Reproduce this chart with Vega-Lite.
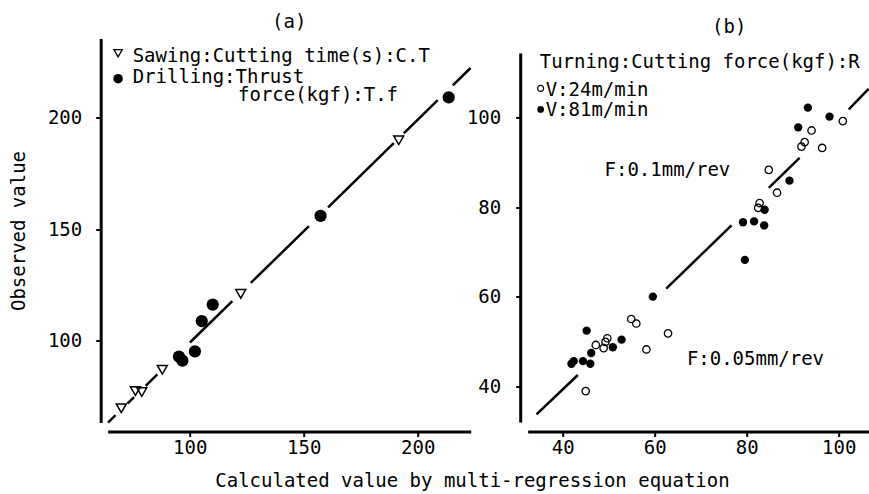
{
  "$schema": "https://vega.github.io/schema/vega-lite/v6.json",
  "padding": {"left": 8.7, "top": 12.5, "right": 0, "bottom": 0},
  "background": "white",
  "spacing": -10,
  "config": {
    "font": "DejaVu Sans Mono",
    "view": {"stroke": null},
    "axis": {
      "domainColor": "black", "domainWidth": 3, "tickColor": "black", "tickWidth": 2, "tickSize": 5,
      "labelColor": "black", "labelFontSize": 19, "labelFont": "DejaVu Sans Mono", "grid": false,
      "titleFontWeight": "normal", "titleFontSize": 19, "titleColor": "black", "titleFont": "DejaVu Sans Mono"
    },
    "text": {"font": "DejaVu Sans Mono", "fontSize": 19, "color": "black"}
  },
  "title": {
    "text": "Calculated value by multi-regression equation", "orient": "bottom", "anchor": "middle",
    "fontSize": 19, "fontWeight": "normal", "font": "DejaVu Sans Mono", "color": "black", "offset": 15, "dx": 31
  },
  "datasets": {
    "a_pts": [
      {"x": 70.0, "y": 69.6, "kind": "Sawing"},
      {"x": 76.2, "y": 77.3, "kind": "Sawing"},
      {"x": 79.0, "y": 76.9, "kind": "Sawing"},
      {"x": 88.0, "y": 86.9, "kind": "Sawing"},
      {"x": 122.4, "y": 120.9, "kind": "Sawing"},
      {"x": 191.7, "y": 189.8, "kind": "Sawing"},
      {"x": 95.3, "y": 92.8, "kind": "Drilling"},
      {"x": 96.8, "y": 91.0, "kind": "Drilling"},
      {"x": 102.3, "y": 95.1, "kind": "Drilling"},
      {"x": 105.3, "y": 108.7, "kind": "Drilling"},
      {"x": 110.1, "y": 116.1, "kind": "Drilling"},
      {"x": 157.4, "y": 155.9, "kind": "Drilling"},
      {"x": 213.6, "y": 209.0, "kind": "Drilling"}
    ],
    "a_line": [
      {"seg": 1, "x": 64.2, "y": 63.2}, {"seg": 1, "x": 67.5, "y": 66.5},
      {"seg": 2, "x": 72.7, "y": 71.7}, {"seg": 2, "x": 75.6, "y": 74.6},
      {"seg": 3, "x": 80.7, "y": 79.7}, {"seg": 3, "x": 85.8, "y": 84.8},
      {"seg": 4, "x": 100.1, "y": 99.1}, {"seg": 4, "x": 118.7, "y": 117.7},
      {"seg": 5, "x": 126.8, "y": 125.8}, {"seg": 5, "x": 152.3, "y": 151.3},
      {"seg": 6, "x": 160.7, "y": 159.7}, {"seg": 6, "x": 189.5, "y": 188.5},
      {"seg": 7, "x": 193.9, "y": 192.9}, {"seg": 7, "x": 208.8, "y": 207.8},
      {"seg": 8, "x": 215.4, "y": 214.4}, {"seg": 8, "x": 223.2, "y": 222.2}
    ],
    "a_leg": [
      {"x": 68.6, "y": 228.8, "kind": "Sawing"},
      {"x": 68.6, "y": 217.4, "kind": "Drilling"}
    ],
    "a_text": [
      {"x": 75.0, "y": 227.8, "label": "Sawing:Cutting time(s):C.T"},
      {"x": 75.0, "y": 218.2, "label": "Drilling:Thrust"},
      {"x": 121.2, "y": 209.9, "label": "force(kgf):T.f"}
    ],
    "b_pts": [
      {"x": 100.9, "y": 99.2, "speed": "24"},
      {"x": 94.1, "y": 97.1, "speed": "24"},
      {"x": 92.6, "y": 94.5, "speed": "24"},
      {"x": 91.9, "y": 93.5, "speed": "24"},
      {"x": 96.4, "y": 93.2, "speed": "24"},
      {"x": 84.8, "y": 88.3, "speed": "24"},
      {"x": 86.6, "y": 83.2, "speed": "24"},
      {"x": 82.8, "y": 80.9, "speed": "24"},
      {"x": 82.5, "y": 79.8, "speed": "24"},
      {"x": 54.9, "y": 55.0, "speed": "24"},
      {"x": 56.0, "y": 54.0, "speed": "24"},
      {"x": 62.9, "y": 51.8, "speed": "24"},
      {"x": 49.7, "y": 50.7, "speed": "24"},
      {"x": 49.3, "y": 49.9, "speed": "24"},
      {"x": 47.2, "y": 49.2, "speed": "24"},
      {"x": 48.9, "y": 48.5, "speed": "24"},
      {"x": 58.2, "y": 48.2, "speed": "24"},
      {"x": 45.0, "y": 38.9, "speed": "24"},
      {"x": 93.3, "y": 102.2, "speed": "81"},
      {"x": 98.0, "y": 100.2, "speed": "81"},
      {"x": 91.2, "y": 97.8, "speed": "81"},
      {"x": 89.3, "y": 85.9, "speed": "81"},
      {"x": 83.9, "y": 79.4, "speed": "81"},
      {"x": 79.2, "y": 76.6, "speed": "81"},
      {"x": 81.6, "y": 76.8, "speed": "81"},
      {"x": 83.8, "y": 75.9, "speed": "81"},
      {"x": 79.6, "y": 68.2, "speed": "81"},
      {"x": 59.6, "y": 60.0, "speed": "81"},
      {"x": 45.2, "y": 52.4, "speed": "81"},
      {"x": 52.8, "y": 50.4, "speed": "81"},
      {"x": 50.9, "y": 48.7, "speed": "81"},
      {"x": 46.2, "y": 47.4, "speed": "81"},
      {"x": 41.9, "y": 45.0, "speed": "81"},
      {"x": 42.4, "y": 45.6, "speed": "81"},
      {"x": 44.4, "y": 45.6, "speed": "81"},
      {"x": 46.0, "y": 45.0, "speed": "81"}
    ],
    "b_line": [
      {"seg": 1, "x": 34.3, "y": 33.7}, {"seg": 1, "x": 43.3, "y": 42.5},
      {"seg": 2, "x": 62.5, "y": 61.8}, {"seg": 2, "x": 76.7, "y": 75.9},
      {"seg": 3, "x": 84.8, "y": 84.3}, {"seg": 3, "x": 91.5, "y": 91.0},
      {"seg": 4, "x": 102.2, "y": 101.8}, {"seg": 4, "x": 106.5, "y": 106.4}
    ],
    "b_axis": [
      {"x": 30.87, "y": 31.89, "y2": 114.29}
    ],
    "b_leg": [
      {"x": 35.2, "y": 106.5, "speed": "24"},
      {"x": 35.2, "y": 101.8, "speed": "81"}
    ],
    "b_text": [
      {"x": 35.0, "y": 112.3, "label": "Turning:Cutting force(kgf):R"},
      {"x": 36.3, "y": 106.1, "label": "V:24m/min"},
      {"x": 36.3, "y": 101.6, "label": "V:81m/min"},
      {"x": 49.1, "y": 88.2, "label": "F:0.1mm/rev"},
      {"x": 67.0, "y": 46.1, "label": "F:0.05mm/rev"}
    ]
  },
  "hconcat": [
    {
      "width": 363,
      "height": 384,
      "title": {"text": "(a)", "fontSize": 19, "fontWeight": "normal", "offset": 6.5, "anchor": "middle", "frame": "group", "color": "black"},
      "encoding": {
        "x": {"field": "x", "type": "quantitative",
          "scale": {"domain": [64.04, 223.25], "nice": false, "zero": false},
          "axis": {"values": [100, 150, 200], "offset": 9, "labelPadding": 2, "title": null}},
        "y": {"field": "y", "type": "quantitative",
          "scale": {"domain": [63.23, 235.43], "nice": false, "zero": false},
          "axis": {"values": [100, 150, 200], "offset": 7, "labelPadding": 14, "title": "Observed value", "titlePadding": 19}}
      },
      "layer": [
        {"data": {"name": "a_line"}, "mark": {"type": "line", "color": "black", "strokeWidth": 2.5}, "encoding": {"detail": {"field": "seg"}}},
        {"data": {"name": "a_pts"}, "transform": [{"filter": "datum.kind === 'Sawing'"}],
          "mark": {"type": "point", "shape": "triangle-down", "filled": false, "color": "black", "strokeWidth": 1.5, "size": 100, "opacity": 1}},
        {"data": {"name": "a_pts"}, "transform": [{"filter": "datum.kind === 'Drilling'"}],
          "mark": {"type": "point", "shape": "circle", "filled": true, "color": "black", "size": 150, "opacity": 1}},
        {"data": {"name": "a_leg"}, "transform": [{"filter": "datum.kind === 'Sawing'"}],
          "mark": {"type": "point", "shape": "triangle-down", "filled": false, "color": "black", "strokeWidth": 1.3, "size": 70, "opacity": 1}},
        {"data": {"name": "a_leg"}, "transform": [{"filter": "datum.kind === 'Drilling'"}],
          "mark": {"type": "point", "shape": "circle", "filled": true, "color": "black", "size": 90, "opacity": 1}},
        {"data": {"name": "a_text"}, "mark": {"type": "text", "align": "left", "baseline": "middle", "fontSize": 19, "color": "black"},
          "encoding": {"text": {"field": "label"}}}
      ]
    },
    {
      "width": 341,
      "height": 384,
      "title": {"text": "(b)", "fontSize": 19, "fontWeight": "normal", "offset": 1.5, "anchor": "middle", "frame": "group", "dx": 31, "color": "black"},
      "encoding": {
        "x": {"field": "x", "type": "quantitative",
          "scale": {"domain": [32.39, 106.52], "nice": false, "zero": false},
          "axis": {"values": [40, 60, 80, 100], "offset": 9, "labelPadding": 2, "title": null}},
        "y": {"field": "y", "type": "quantitative",
          "scale": {"domain": [31.89, 117.64], "nice": false, "zero": false},
          "axis": {"values": [40, 60, 80, 100], "offset": 7, "labelPadding": 15, "title": null, "domain": false}}
      },
      "layer": [
        {"data": {"name": "b_axis"}, "mark": {"type": "rule", "color": "black", "strokeWidth": 3},
          "encoding": {"y2": {"field": "y2"}}},
        {"data": {"name": "b_line"}, "mark": {"type": "line", "color": "black", "strokeWidth": 2.5}, "encoding": {"detail": {"field": "seg"}}},
        {"data": {"name": "b_pts"}, "transform": [{"filter": "datum.speed === '24'"}],
          "mark": {"type": "point", "shape": "circle", "filled": false, "color": "black", "strokeWidth": 1.3, "size": 55, "opacity": 1}},
        {"data": {"name": "b_pts"}, "transform": [{"filter": "datum.speed === '81'"}],
          "mark": {"type": "point", "shape": "circle", "filled": true, "color": "black", "size": 70, "opacity": 1}},
        {"data": {"name": "b_leg"}, "transform": [{"filter": "datum.speed === '24'"}],
          "mark": {"type": "point", "shape": "circle", "filled": false, "color": "black", "strokeWidth": 1.2, "size": 36, "opacity": 1}},
        {"data": {"name": "b_leg"}, "transform": [{"filter": "datum.speed === '81'"}],
          "mark": {"type": "point", "shape": "circle", "filled": true, "color": "black", "size": 45, "opacity": 1}},
        {"data": {"name": "b_text"}, "mark": {"type": "text", "align": "left", "baseline": "middle", "fontSize": 19, "color": "black"},
          "encoding": {"text": {"field": "label"}}}
      ]
    }
  ]
}
